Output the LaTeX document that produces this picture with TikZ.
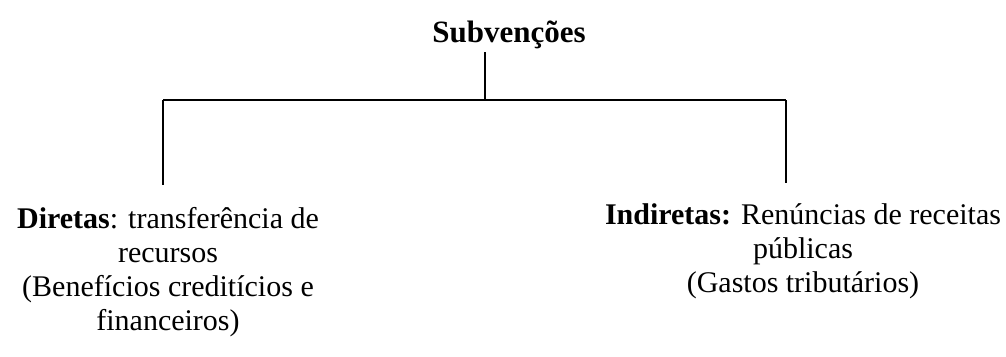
\documentclass[tikz,border=0pt]{standalone}
\usepackage{fontspec}
\setmainfont{Liberation Serif}
\begin{document}
\begin{tikzpicture}[x=1pt,y=-1pt,
  txt/.style={inner sep=0pt,font=\fontsize{30}{34}\selectfont,align=center},
  conn/.style={line width=1.6pt,black}]
\useasboundingbox (0,0) rectangle (1006,356);
\node[txt,anchor=base,font=\fontsize{31}{34}\selectfont] (title) at (509,42) {\textbf{Subvenções}};
\node[txt,anchor=base] (dir) at (168,330) {\textbf{Diretas}: transferência de\\recursos\\(Benefícios creditícios e\\financeiros)};
\node[txt,anchor=base] (ind) at (803,292) {\textbf{Indiretas:} Renúncias de receitas\\públicas\\(Gastos tributários)};
\coordinate (ttop) at (485,52);
\coordinate (j) at (485,100);
\coordinate (jl) at (163,100);
\coordinate (jr) at (786,100);
\coordinate (lend) at (163,185);
\coordinate (rend) at (786,183);
\draw[conn] (ttop) -- (j);
\draw[conn] (jl) -- (jr);
\draw[conn] (jl) -- (lend);
\draw[conn] (jr) -- (rend);
\end{tikzpicture}
\end{document}
